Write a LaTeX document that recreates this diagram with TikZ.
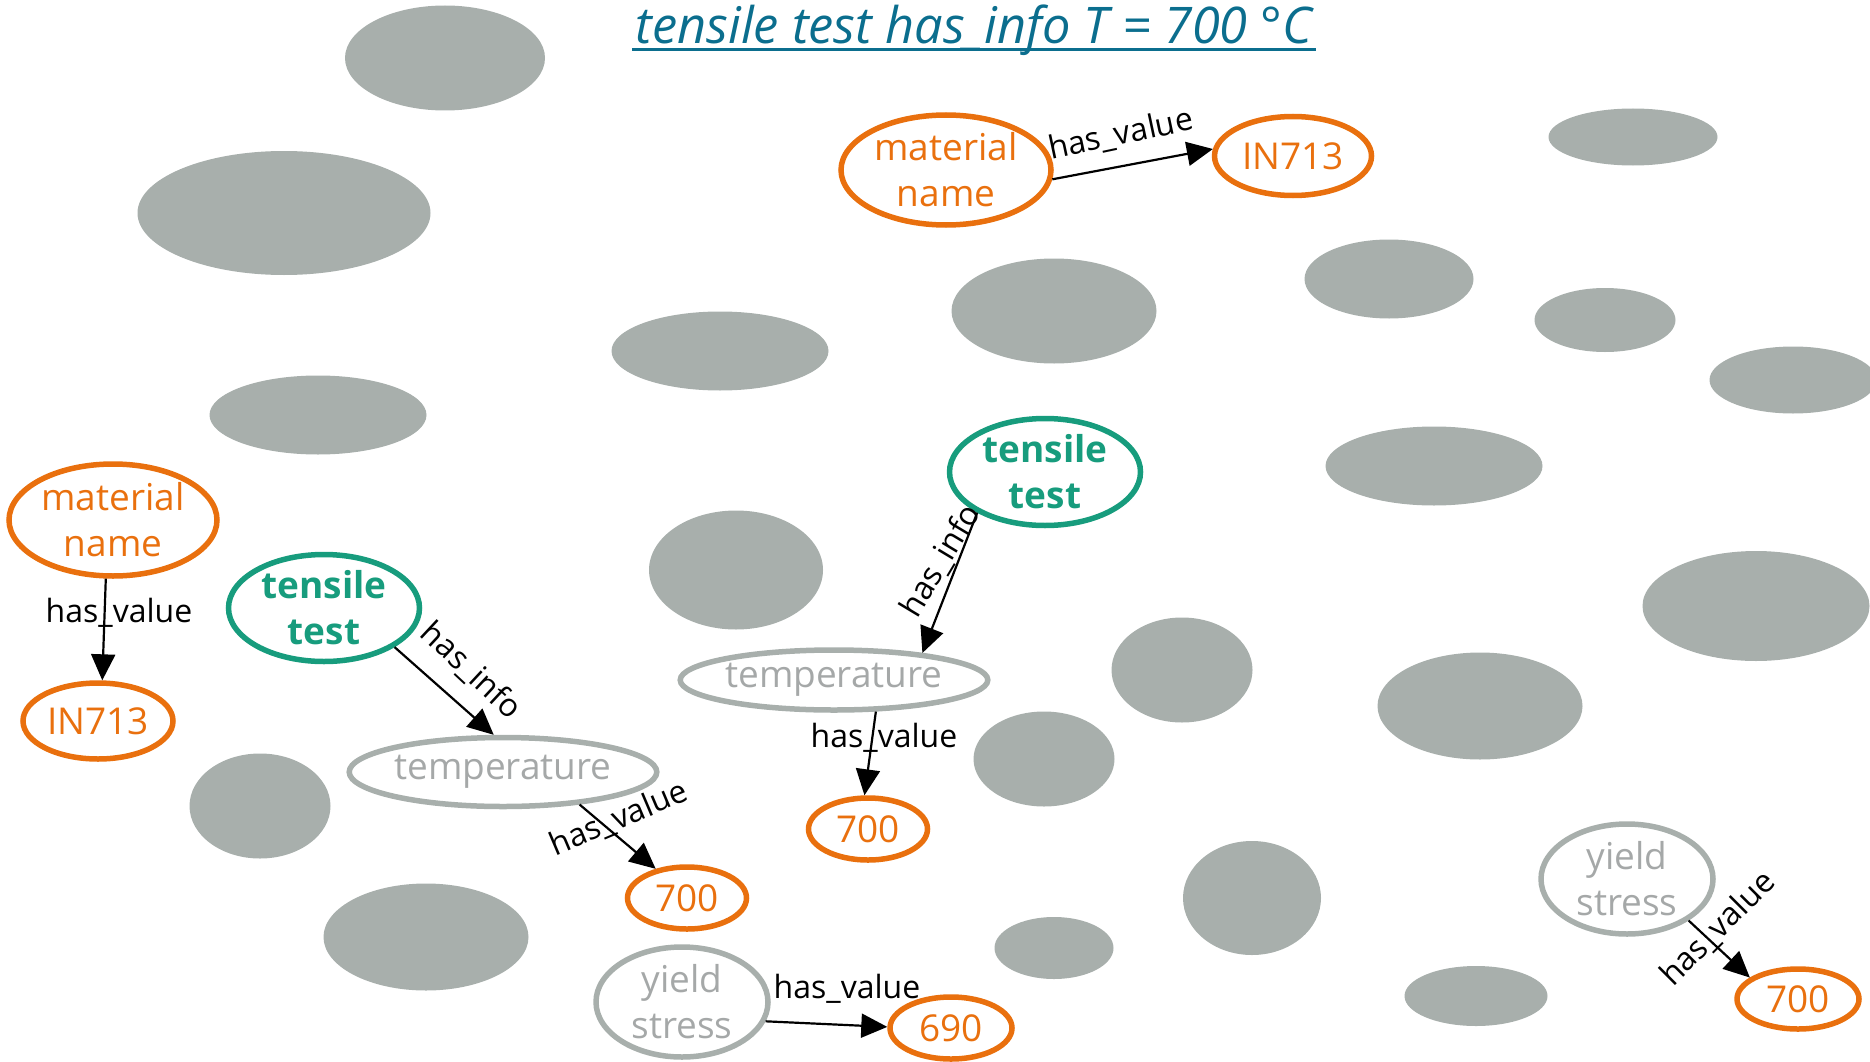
\documentclass[tikz,border=0pt]{standalone}
\usepackage{fontspec}
\setmainfont{Open Sans}
\usetikzlibrary{arrows.meta,shapes.geometric}
\definecolor{fhOrange}{HTML}{E9700E}
\definecolor{fhGreen}{HTML}{179C7D}
\definecolor{fhGray}{HTML}{A8AFAC}
\definecolor{inkGray}{HTML}{A5A8A8}
\definecolor{titleBlue}{HTML}{0B6E8E}
\tikzset{
  every node/.style={font=\fontsize{37}{46}\selectfont},
  term/.style={ellipse, draw, line width=5.5pt, align=center, inner sep=0pt},
  literal/.style={term, draw=fhOrange, text=fhOrange},
  concept/.style={term, draw=fhGreen, text=fhGreen,
                  font=\fontsize{37}{46}\selectfont\bfseries},
  faded/.style={term, draw=fhGray, text=inkGray},
  blob/.style={ellipse, fill=fhGray, inner sep=0pt},
  rel/.style={-{Triangle[length=26pt,width=24pt]}, line width=2.2pt},
  rellabel/.style={font=\fontsize{32}{36}\selectfont, inner sep=0pt},
}

\begin{document}
\begin{tikzpicture}[x=1pt, y=-1pt]
\useasboundingbox (0,0) rectangle (1870,1062);

% ------------------------------------------------ the greyed-out triples
\foreach \x/\y/\w/\h [count=\i] in {
    445/58/200/105, 284/213/293/124, 720/351/217/79, 1054/311/205/105,
    1389/279/169/79, 1633/137/169/57, 1605/320/141/64, 1793/380/167/67,
    318/415/217/79, 1434/466/217/79, 736/570/174/119, 1756/606/227/110,
    1182/670/141/105, 1480/706/205/107, 1044/759/141/95, 260/806/141/105,
    426/937/205/107, 1252/898/138/114, 1054/948/119/62, 1476/996/143/60}
  \node[blob, minimum width=\w pt, minimum height=\h pt] (blob\i) at (\x,\y) {};

% ---------------------------------------------------------------- the title
\node[font=\fontsize{50.5}{58}\selectfont\itshape, text=titleBlue] (title)
  at (974,30) {tensile test has\_info T = 700 °C};
\draw[titleBlue, line width=3pt]
  ([yshift=-6pt]title.base west) -- ([yshift=-6pt]title.base east);

% -------------------------------------------------- material name, top
\node[literal, minimum width=210pt, minimum height=110pt] (matTop)
  at (946,170) {material\\name};
\node[literal, minimum width=157pt, minimum height=79pt] (inTop)
  at (1293,156) {IN713};
\draw[rel] (matTop.-5) -- (inTop.175)
  node[rellabel, rotate=12] at (1121,135) {has\_value};

% -------------------------------------------------- material name, left
\node[literal, minimum width=208pt, minimum height=112pt] (matLeft)
  at (113,520) {material\\name};
\node[literal, minimum width=150pt, minimum height=76pt] (inLeft)
  at (98,721) {IN713};
\draw[rel] (matLeft.263) -- (inLeft.84)
  node[rellabel] at (119,613) {has\_value};

% ------------------------------------------- tensile test, left branch
\node[concept, minimum width=191pt, minimum height=107pt] (tensLeft)
  at (324,608) {tensile\\test};
\node[faded, minimum width=298pt, minimum height=69pt] (tempLeft)
  at (503,772) {temperature};
\node[literal, minimum width=119pt, minimum height=62pt] (valLeft)
  at (687,898) {700};
\draw[rel] (tensLeft.331) -- (tempLeft.104)
  node[rellabel, rotate=-43] at (471,671) {has\_info};
\draw[rel] (tempLeft.337) -- (valLeft.137)
  node[rellabel, rotate=23] at (619,819) {has\_value};

% ----------------------------------------- tensile test, middle branch
\node[concept, minimum width=191pt, minimum height=107pt] (tensMid)
  at (1045,472) {tensile\\test};
\node[faded, minimum width=296pt, minimum height=60pt] (tempMid)
  at (834,680) {temperature};
\node[literal, minimum width=119pt, minimum height=62pt] (valMid)
  at (868,829) {700};
\draw[rel] (tensMid.211) -- (tempMid.17)
  node[rellabel, rotate=59] at (941,561) {has\_info};
\draw[rel] (tempMid.323) -- (valMid.96)
  node[rellabel] at (884,738) {has\_value};

% --------------------------------------------------------- yield stress
\node[faded, minimum width=172pt, minimum height=110pt] (yieldLow)
  at (682,1002) {yield\\stress};
\node[literal, minimum width=122pt, minimum height=62pt] (val690)
  at (951,1028) {690};
\draw[rel] (yieldLow.347) -- (val690.179)
  node[rellabel] at (847,989) {has\_value};

\node[faded, minimum width=172pt, minimum height=110pt] (yieldRight)
  at (1627,879) {yield\\stress};
\node[literal, minimum width=122pt, minimum height=60pt] (valRight)
  at (1798,999) {700};
\draw[rel] (yieldRight.326) -- (valRight.156)
  node[rellabel, rotate=45] at (1718,929) {has\_value};

\end{tikzpicture}
\end{document}
